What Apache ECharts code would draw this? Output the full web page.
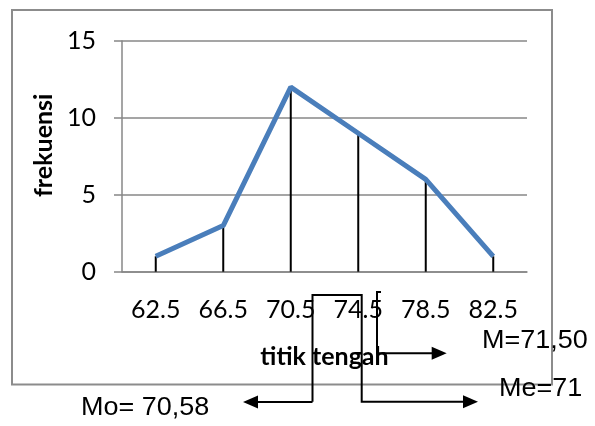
<!DOCTYPE html>
<html>
<head>
<meta charset="utf-8">
<script src="https://cdn.jsdelivr.net/npm/echarts@6/dist/echarts.min.js"></script>
<style>
  html, body { margin: 0; padding: 0; background: #fff; }
  #main { width: 595px; height: 426px; }
</style>
</head>
<body>
<div id="main"></div>
<script>
// titik tengah (midpoints) and their frequencies
var categories = ['62.5', '66.5', '70.5', '74.5', '78.5', '82.5'];
var frekuensi = [1, 3, 12, 9, 6, 1];
var yMin = 0, yMax = 15, yStep = 5;

// notes written beside the chart
var noteMean = 'M=71,50';
var noteMedian = 'Me=71';
var noteMode = 'Mo= 70,58';

var chartFont = 'Lato, "Open Sans", sans-serif';
var noteFont = '"Liberation Sans", Arial, sans-serif';
var gray = '#878787';

function arrow(tipX, tipY, dir) {
  // small filled triangle, dir = 1 points right, -1 points left
  return {
    type: 'polygon',
    shape: { points: [[tipX, tipY], [tipX - dir * 15, tipY - 6.5], [tipX - dir * 15, tipY + 6.5]] },
    style: { fill: '#000' },
    z: 100
  };
}
function line(points) {
  return {
    type: 'polyline',
    shape: { points: points },
    style: { stroke: '#000', lineWidth: 2, fill: null },
    z: 100
  };
}
function note(text, x, y) {
  return {
    type: 'text',
    x: x, y: y,
    scaleX: 1.08,
    style: { text: text, fontSize: 25, fontFamily: noteFont, fill: '#000', verticalAlign: 'middle' },
    z: 100
  };
}

var option = {
  animation: false,
  backgroundColor: '#fff',
  grid: { left: 122, top: 41, width: 405, height: 230.7 },
  xAxis: {
    type: 'category',
    data: categories,
    name: 'titik tengah',
    nameLocation: 'middle',
    nameGap: 73,
    nameTextStyle: { fontFamily: chartFont, fontSize: 25, fontWeight: 'bold', color: '#000' },
    axisLine: { lineStyle: { color: gray, width: 1.5 } },
    axisTick: { show: false },
    axisLabel: { fontFamily: chartFont, fontSize: 25, color: '#000', margin: 26 }
  },
  yAxis: {
    type: 'value',
    min: yMin, max: yMax, interval: yStep,
    name: 'frekuensi',
    nameLocation: 'middle',
    nameGap: 64,
    nameTextStyle: { fontFamily: chartFont, fontSize: 25, fontWeight: 'bold', color: '#000', padding: [0, 0, 0, 22] },
    axisLine: { show: true, lineStyle: { color: gray, width: 1.5 } },
    axisTick: { show: true, length: 8, lineStyle: { color: gray, width: 1.5 } },
    splitLine: { lineStyle: { color: gray, width: 1.5 } },
    axisLabel: { fontFamily: chartFont, fontSize: 25, color: '#000', margin: 26 }
  },
  series: [
    {
      type: 'bar',
      data: frekuensi,
      barWidth: 2,
      itemStyle: { color: '#000' },
      z: 1
    },
    {
      type: 'line',
      data: frekuensi,
      symbol: 'none',
      lineStyle: { color: '#4a7ebb', width: 5 },
      z: 2
    }
  ],
  graphic: [
    {
      type: 'rect',
      shape: { x: 12, y: 10, width: 540, height: 374.5 },
      style: { stroke: '#8c8c8c', lineWidth: 2, fill: null },
      z: 50
    },
    // bracket with two arrows (mode and median)
    line([[312.5, 401.7], [312.5, 295], [361.7, 295], [361.7, 401.7], [466, 401.7]]),
    line([[312.5, 402], [255, 402]]),
    arrow(478, 401.7, 1),
    arrow(243, 402, -1),
    // mean pointer
    line([[381, 292], [377, 292], [377, 353.3], [434, 353.3]]),
    arrow(446.7, 353.3, 1),
    note(noteMean, 482, 341),
    note(noteMedian, 499, 389),
    note(noteMode, 81, 408)
  ]
};

echarts.init(document.getElementById('main')).setOption(option);
</script>
</body>
</html>
